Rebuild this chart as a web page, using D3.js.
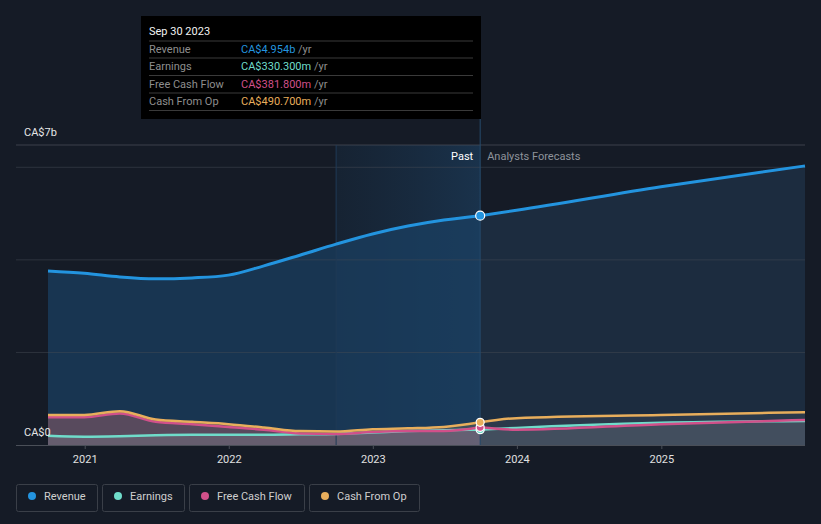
<!DOCTYPE html>
<html><head><meta charset="utf-8">
<script src="https://cdn.jsdelivr.net/npm/d3@7/dist/d3.min.js"></script>
<style>
html,body{margin:0;padding:0;background:#151b26;}
svg{display:block;font-family:Roboto,"Noto Sans",sans-serif;}
</style></head><body>
<svg id="chart" width="821" height="524"></svg>
<script>
// ---- data ----
const pastDates = ["2020-09-30","2020-12-31","2021-03-31","2021-06-30","2021-09-30","2021-12-31","2022-03-31","2022-06-30","2022-09-30","2022-12-31","2023-03-31","2023-06-30","2023-09-30"];
const revenuePast = [3.76,3.71,3.63,3.59,3.61,3.67,3.87,4.10,4.34,4.56,4.73,4.86,4.954];
const earningsPast = [0.20,0.18,0.19,0.21,0.22,0.22,0.22,0.23,0.24,0.27,0.30,0.32,0.3303];
const fcfPast = [0.60,0.60,0.68,0.50,0.45,0.39,0.33,0.25,0.24,0.28,0.30,0.30,0.3818];
const cfoPast = [0.65,0.65,0.73,0.55,0.50,0.45,0.38,0.30,0.29,0.34,0.36,0.39,0.4907];
const forecastDates = ["2023-09-30","2023-12-31","2024-12-31","2025-12-31"];
const revenueForecast = [4.954,5.07,5.58,6.03];
const earningsForecast = [0.3303,0.37,0.48,0.52];
const fcfForecast = [0.3818,0.33,0.45,0.54];
const cfoForecast = [0.4907,0.58,0.65,0.71];
const yearTicks = ["2021","2022","2023","2024","2025"];
const seriesNames = ["Revenue","Earnings","Free Cash Flow","Cash From Op"];
const seriesColors = ["#2394df","#6fdcca","#d1508a","#e8ae5c"];
const tooltipValues = ["CA$4.954b","CA$330.300m","CA$381.800m","CA$490.700m"];
const yLabels = ["CA$0","CA$7b"];

// ---- setup ----
const svg = d3.select("#chart");
const parse = d3.timeParse("%Y-%m-%d");
const x = d3.scaleTime().domain([parse("2020-09-30"), parse("2025-12-31")]).range([48, 805]);
const y = d3.scaleLinear().domain([0, 7]).range([445, 121]);
const splitDate = parse("2023-09-30");
const bandStart = parse("2022-09-30");

const mk = (dates, vals) => dates.map((d,i)=>({d:parse(d), v:vals[i]}));
const revP = mk(pastDates, revenuePast), revF = mk(forecastDates, revenueForecast);
const earnP = mk(pastDates, earningsPast), earnF = mk(forecastDates, earningsForecast);
const fcfP = mk(pastDates, fcfPast), fcfF = mk(forecastDates, fcfForecast);
const cfoP = mk(pastDates, cfoPast), cfoF = mk(forecastDates, cfoForecast);

const curve = d3.curveMonotoneX;
const line = d3.line().x(p=>x(p.d)).y(p=>y(p.v)).curve(curve);
const area = d3.area().x(p=>x(p.d)).y0(y(0)).y1(p=>y(p.v)).curve(curve);

const defs = svg.append("defs");
const g1 = defs.append("linearGradient").attr("id","band").attr("x1",0).attr("x2",1).attr("y1",0).attr("y2",0);
g1.append("stop").attr("offset","0%").attr("stop-color","#17283b").attr("stop-opacity",0.6);
g1.append("stop").attr("offset","100%").attr("stop-color","#1a3550").attr("stop-opacity",0.9);

// highlight band (last year of past)
svg.append("rect").attr("x", x(bandStart)).attr("y",145).attr("width", x(splitDate)-x(bandStart)).attr("height",300).attr("fill","url(#band)");

// revenue areas
svg.append("path").datum(revP).attr("d",area).attr("fill","#1a4062").attr("fill-opacity",0.72);
svg.append("path").datum(revF).attr("d",area).attr("fill","#1c2d40").attr("fill-opacity",0.95);

// gridlines (drawn over fills, subtle)
svg.append("line").attr("x1",16).attr("x2",805).attr("y1",145).attr("y2",145).attr("stroke","#4a4f58").attr("stroke-opacity",0.75).attr("stroke-width",1);
[2,4,6].forEach(v=>{
  svg.append("line").attr("x1",16).attr("x2",805).attr("y1",y(v)).attr("y2",y(v)).attr("stroke","#454b55").attr("stroke-opacity",0.5).attr("stroke-width",1);
});

// small series areas
const small = [[cfoP,cfoF,3],[fcfP,fcfF,2],[earnP,earnF,1]];
small.forEach(([p,f,i])=>{
  svg.append("path").datum(p).attr("d",area).attr("fill", i===1?"#8c99a3":seriesColors[i]).attr("fill-opacity", i===1?0.25:0.18);
  svg.append("path").datum(f).attr("d",area).attr("fill","#8a8e96").attr("fill-opacity",0.14);
});

// vertical lines
svg.append("line").attr("x1",x(bandStart)).attr("x2",x(bandStart)).attr("y1",145).attr("y2",445).attr("stroke","#1f3a55").attr("stroke-width",1);
svg.append("line").attr("x1",x(splitDate)).attr("x2",x(splitDate)).attr("y1",119).attr("y2",445).attr("stroke","#264a6b").attr("stroke-width",1);

// lines
[[earnP,earnF,1],[fcfP,fcfF,2],[cfoP,cfoF,3],[revP,revF,0]].forEach(([p,f,i])=>{
  const w = i===0?3:2.5;
  svg.append("path").datum(p).attr("d",line).attr("fill","none").attr("stroke",seriesColors[i]).attr("stroke-width",w);
  svg.append("path").datum(f).attr("d",line).attr("fill","none").attr("stroke",seriesColors[i]).attr("stroke-width",w);
});

// markers
[[earnP,1],[fcfP,2],[cfoP,3],[revP,0]].forEach(([p,i])=>{
  const last = p[p.length-1];
  svg.append("circle").attr("cx",x(last.d)).attr("cy",y(last.v)).attr("r", i===0?4.5:4).attr("fill",seriesColors[i]).attr("stroke","#ffffff").attr("stroke-width",1.2);
});

// x axis
svg.append("line").attr("x1",16).attr("x2",805).attr("y1",445.5).attr("y2",445.5).attr("stroke","#4a4f58").attr("stroke-width",1);
const xAxis = d3.axisBottom(x).tickValues(yearTicks.map(t=>parse(t+"-01-01"))).tickFormat(d3.timeFormat("%Y")).tickSize(4).tickPadding(6);
const ax = svg.append("g").attr("transform","translate(0,445)").call(xAxis);
ax.select(".domain").remove();
ax.selectAll(".tick line").attr("stroke","#4a4f58");
ax.selectAll(".tick text").attr("fill","#e0e0e0").attr("font-size",11).attr("font-family","Roboto, sans-serif");

// y labels
svg.append("text").attr("x",24).attr("y",136).attr("fill","#e6e6e6").attr("font-size",11).text(yLabels[1]);
svg.append("text").attr("x",24).attr("y",436).attr("fill","#e6e6e6").attr("font-size",11).text(yLabels[0]);

// past / forecast labels
svg.append("text").attr("x",x(splitDate)-7).attr("y",160).attr("text-anchor","end").attr("fill","#ffffff").attr("font-size",11).text("Past");
svg.append("text").attr("x",x(splitDate)+7).attr("y",160).attr("fill","#8e939b").attr("font-size",11).text("Analysts Forecasts");

// tooltip
const tt = svg.append("g");
tt.append("rect").attr("x",141).attr("y",16).attr("width",340).attr("height",103).attr("fill","#000000");
tt.append("text").attr("x",149).attr("y",35).attr("fill","#f2f2f2").attr("font-size",11).text("Sep 30 2023");
[41,58,75.5,93,110.5].forEach(ly=>{
  tt.append("line").attr("x1",149).attr("x2",473).attr("y1",ly).attr("y2",ly).attr("stroke","#3a3a3a").attr("stroke-width",1);
});
seriesNames.forEach((n,i)=>{
  const ty = 53 + i*17.4;
  tt.append("text").attr("x",149).attr("y",ty).attr("fill","#8e8e8e").attr("font-size",11).text(n);
  const t = tt.append("text").attr("x",241).attr("y",ty).attr("font-size",11);
  t.append("tspan").attr("fill",seriesColors[i]).text(tooltipValues[i]);
  t.append("tspan").attr("fill","#8e8e8e").text(" /yr");
});

// legend
const legW = [81,82,115,110];
let lx = 16;
seriesNames.forEach((n,i)=>{
  const lg = svg.append("g");
  lg.append("rect").attr("x",lx+0.5).attr("y",484.5).attr("width",legW[i]).attr("height",27).attr("rx",2).attr("fill","none").attr("stroke","#3a3f48");
  lg.append("circle").attr("cx",lx+16).attr("cy",496).attr("r",4).attr("fill",seriesColors[i]);
  lg.append("text").attr("x",lx+28).attr("y",500).attr("fill","#cfcfcf").attr("font-size",11).text(n);
  lx += legW[i] + 5;
});
</script>
</body></html>
